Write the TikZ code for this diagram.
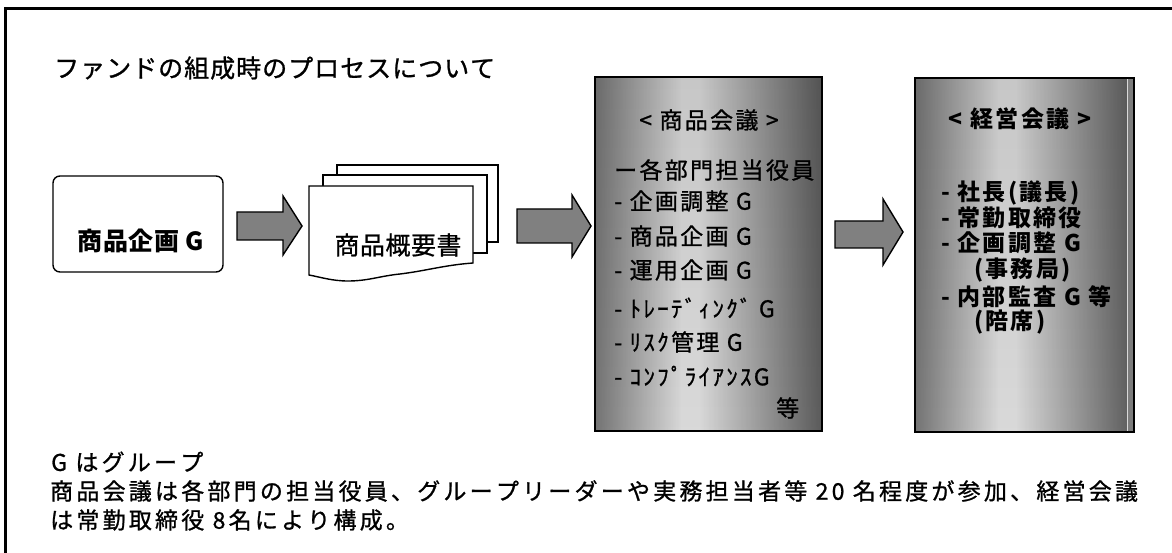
\documentclass[tikz,border=0pt]{standalone}
\usepackage{fontspec}
\usetikzlibrary{fadings}
\setmainfont{Noto Sans CJK JP}[Kerning=Off]
\newfontfamily\titlefont[LetterSpace=4, Kerning=Off, FakeBold=1.0]{Noto Sans CJK JP}
\newfontfamily\planfont[LetterSpace=2, Kerning=Off]{Noto Sans CJK JP}
\newfontfamily\docfont[LetterSpace=2, Kerning=Off, FakeBold=0.8]{Noto Sans CJK JP}
\newfontfamily\listfont[LetterSpace=10, Kerning=Off, FakeBold=1.0]{Noto Sans CJK JP}
\newfontfamily\mgmtfont[LetterSpace=10, Kerning=Off]{Noto Sans CJK JP}
\newfontfamily\notefont[LetterSpace=14, Kerning=Off, FakeBold=1.0]{Noto Sans CJK JP}
\definecolor{arrowgray}{HTML}{808080}
\definecolor{metalL}{HTML}{888888}
\definecolor{metalR}{HTML}{6A6A6A}
\definecolor{stripgray}{HTML}{7C7C7C}
\pgfdeclarehorizontalshading{metal}{100bp}{color(0bp)=(metalL); color(25bp)=(metalL); color(44bp)=(white); color(48bp)=(white); color(75bp)=(metalR); color(100bp)=(metalR)}
\tikzfading[name=vfade, top color=transparent!78, middle color=transparent!100, bottom color=transparent!85]
\tikzset{
  blockarrow/.style={fill=arrowgray, draw=black, line width=1.4pt, line join=miter},
  sheet/.style={fill=white, draw=black, line width=1.4pt, line join=miter},
  meeting/.style={shading=metal, draw=black, line width=1.6pt},
  plainlabel/.style={inner sep=0pt},
}
\begin{document}
\begin{tikzpicture}[x=1pt,y=-1pt]
\useasboundingbox (0,0) rectangle (1172,553);
% outer frame (cut off at right and bottom)
\draw[line width=3pt] (5,570) -- (5,9) -- (1190,9);

% title
\node[plainlabel, anchor=west] (title) at (54,68) {\titlefont\fontsize{25}{28}\selectfont ファンドの組成時のプロセスについて};

% box 1
\draw[sheet, rounded corners=7pt] (53,176) rectangle (223,272);
\node[plainlabel] (plan) at (141,241) {\planfont\bfseries\fontsize{25}{28}\selectfont 商品企画 G};

% arrow 1
\draw[blockarrow] (237,212) -- (283,212) -- (283,196) -- (302,226) -- (283,255) -- (283,240) -- (237,240) -- cycle;

% document stack
\draw[sheet] (337,165) rectangle (498,242);
\draw[sheet] (323,175) rectangle (487,253);
\draw[sheet] (309,186) -- (473,186) -- (473,263)
  .. controls (445,265) and (425,271) .. (400,274)
  .. controls (380,276) and (368,281) .. (348,281)
  .. controls (332,281) and (320,277) .. (309,275) -- cycle;
\node[plainlabel] (outline) at (398,245) {\docfont\fontsize{25}{28}\selectfont 商品概要書};

% arrow 2
\draw[blockarrow] (517,209) -- (572,209) -- (572,195) -- (591,226) -- (572,257) -- (572,243) -- (517,243) -- cycle;

% product meeting box
\path[meeting] (595,77) rectangle (822,431);
\fill[black, path fading=vfade] (595,77) rectangle (822,431);
\draw[black, line width=1.6pt] (595,77) rectangle (822,431);
\node[plainlabel] (pm) at (709,120) {\listfont\fontsize{23}{26}\selectfont < 商品会議 >};
\begin{scope}[every node/.style={plainlabel, anchor=west, font=\listfont\fontsize{23}{26}\selectfont}]
\node (pm1) at (614,170) {ー各部門担当役員};
\node (pm2) at (614,201) {- 企画調整 G};
\node (pm3) at (614,236) {- 商品企画 G};
\node (pm4) at (614,270) {- 運用企画 G};
\node (pm5) at (614,308) {- ﾄﾚｰﾃﾞｨﾝｸﾞ G};
\node (pm6) at (614,342) {- ﾘｽｸ管理 G};
\node (pm7) at (614,376) {- ｺﾝﾌﾟﾗｲｱﾝｽG};
\node (pm8) at (776,408) {等};
\end{scope}

% arrow 3
\draw[blockarrow] (835,221) -- (883,221) -- (883,199) -- (903,232) -- (883,265) -- (883,248) -- (835,248) -- cycle;

% management meeting box
\path[meeting] (915,78) rectangle (1134,432);
\fill[black, path fading=vfade] (915,78) rectangle (1134,432);
\fill[stripgray] (1127,78) rectangle (1134,432);
\draw[white!85!black, line width=0.8pt] (1127,78) -- (1127,432);
\draw[black, line width=1.6pt] (915,78) rectangle (1134,432);
\node[plainlabel] (mm) at (1020,119) {\mgmtfont\bfseries\fontsize{23}{26}\selectfont < 経営会議 >};
\begin{scope}[every node/.style={plainlabel, anchor=west, font=\mgmtfont\bfseries\fontsize{23}{26}\selectfont}]
\node (mm1) at (941,193) {- 社長(議長)};
\node (mm2) at (941,218) {- 常勤取締役};
\node (mm3) at (941,243) {- 企画調整 G};
\node (mm4) at (974,270) {(事務局)};
\node (mm5) at (941,297) {- 内部監査 G 等};
\node (mm6) at (974,322) {(陪席)};
\end{scope}

% notes
\begin{scope}[every node/.style={plainlabel, anchor=west, font=\notefont\fontsize{23}{26}\selectfont}]
\node (n1) at (51,462) {G はグループ};
\node (n2) at (50,491) {商品会議は各部門の担当役員、グループリーダーや実務担当者等 20 名程度が参加、経営会議};
\node (n3) at (50,520) {は常勤取締役 8名により構成。};
\end{scope}
\end{tikzpicture}
\end{document}
